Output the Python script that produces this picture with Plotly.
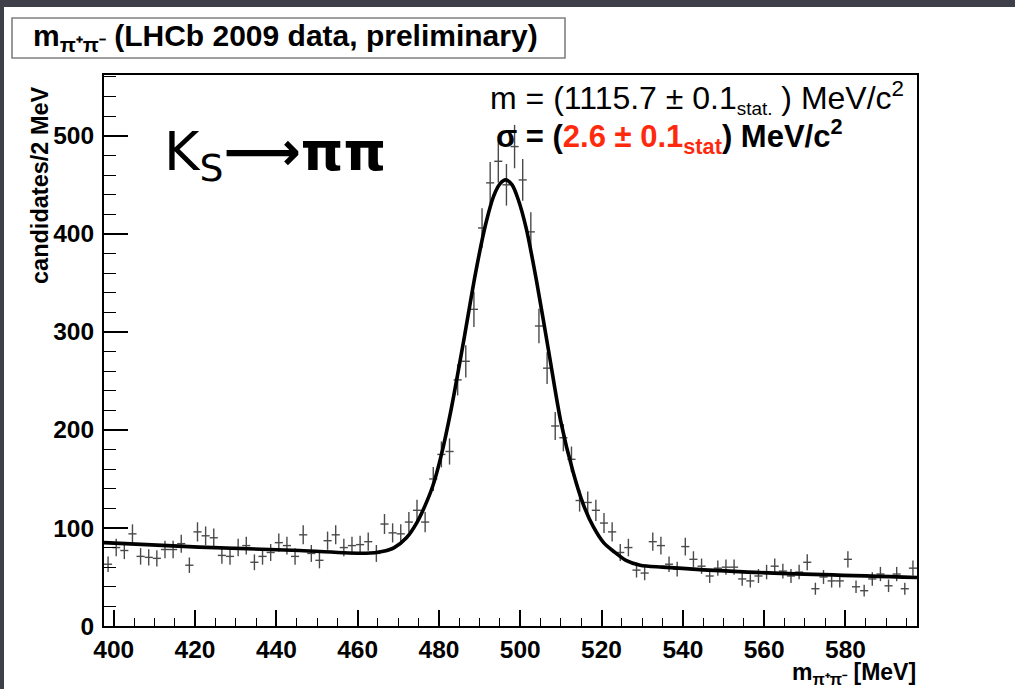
import numpy as np
import plotly.graph_objects as go

# ---------------- data ----------------
bin_width = 2.0
first_bin_center = 398.6
counts = [63, 80, 77, 94, 71, 70, 69, 78, 78, 84,
          62, 96, 92, 90, 72, 71, 80, 82, 65, 71,
          75, 85, 82, 71, 93, 74, 67, 87, 93, 80,
          82, 83, 86, 74, 104, 95, 94, 106, 118, 106,
          150, 175, 178, 251, 270, 323, 406, 452, 474, 450,
          489, 455, 402, 306, 263, 204, 192, 170, 128, 126,
          118, 105, 96, 75, 80, 57, 54, 86, 82, 63,
          58, 81, 68, 61, 51, 59, 60, 60, 48, 46,
          51, 55, 61, 56, 51, 55, 65, 38, 50, 46,
          46, 68, 40, 36, 48, 53, 41, 53, 38, 59]
bin_centers = [first_bin_center + bin_width * i for i in range(len(counts))]

fit_x = [397.6, 421.0, 445.7, 462.0, 466.0, 469.0, 472.0, 474.5, 476.5, 478.5,
         480.5, 483.0, 486.0, 489.0, 491.5, 493.5, 495.0, 496.4, 498.0, 499.5,
         501.5, 504.0, 507.0, 510.0, 513.0, 515.5, 518.0, 520.5, 523.0, 526.0,
         529.5, 535.0, 556.0, 597.6]
fit_y = [85.0, 80.5, 77.0, 74.2, 76.0, 80.0, 90.0, 105.0, 122.0, 143.0,
         173.0, 221.0, 289.0, 360.0, 410.0, 439.0, 451.0, 455.0, 450.0, 435.0,
         405.0, 352.0, 280.0, 208.0, 157.0, 124.0, 101.0, 85.0, 76.0, 67.0,
         62.0, 60.0, 55.0, 49.5]

x_range = [397.6, 597.6]
y_range = [0, 562]
x_ticks = [400, 420, 440, 460, 480, 500, 520, 540, 560, 580]
y_ticks = [0, 100, 200, 300, 400, 500]

# ---------------- geometry helpers ----------------
W, H = 1015, 689
L, R, T, B = 104, 917, 75, 626


def px(xp):
    return (xp - L) / (R - L)


def py(yp):
    return (B - yp) / (B - T)


FONT = "Liberation Sans"

fig = go.Figure()

fig.add_trace(go.Scatter(
    x=bin_centers, y=counts, mode="markers",
    marker=dict(size=1, color="rgba(0,0,0,0)"),
    error_x=dict(type="constant", value=bin_width / 2, width=0,
                 color="#4a4a4a", thickness=1.4),
    error_y=dict(type="data", array=np.sqrt(np.array(counts, dtype=float)),
                 width=0, color="#4a4a4a", thickness=1.4),
    showlegend=False, hoverinfo="skip"))

fig.add_trace(go.Scatter(
    x=fit_x, y=fit_y, mode="lines",
    line=dict(color="black", width=3.6, shape="spline", smoothing=0.8),
    showlegend=False, hoverinfo="skip"))

fig.update_layout(
    width=W, height=H,
    margin=dict(l=L, r=W - R, t=T, b=H - B),
    paper_bgcolor="white", plot_bgcolor="white",
    font=dict(family=FONT, color="black"),
    xaxis=dict(range=x_range, tickvals=x_ticks, ticks="inside", ticklen=16,
               tickwidth=1.5, tickcolor="black",
               minor=dict(dtick=5, tick0=0, ticks="inside", ticklen=8,
                          tickwidth=1.2, tickcolor="black"),
               showline=True, linecolor="black", linewidth=2, mirror=True,
               showgrid=False, zeroline=False,
               tickfont=dict(size=24.5, family=FONT, weight="bold", color="black"),
               ticklabelstandoff=1),
    yaxis=dict(range=y_range, tickvals=y_ticks, ticks="inside", ticklen=24,
               tickwidth=1.5, tickcolor="black",
               minor=dict(dtick=20, tick0=0, ticks="inside", ticklen=12,
                          tickwidth=1.2, tickcolor="black"),
               showline=True, linecolor="black", linewidth=2, mirror=True,
               showgrid=False, zeroline=False,
               tickfont=dict(size=24.5, family=FONT, weight="bold", color="black"),
               ticklabelstandoff=3),
)

shapes = [
    # slide border strips
    dict(type="rect", xref="paper", yref="paper", x0=px(0), x1=px(W), y0=py(7), y1=py(0),
         fillcolor="#3d4049", line=dict(width=0), layer="above"),
    dict(type="rect", xref="paper", yref="paper", x0=px(0), x1=px(4), y0=py(H), y1=py(0),
         fillcolor="#3d4049", line=dict(width=0), layer="above"),
    # title box
    dict(type="rect", xref="paper", yref="paper", x0=px(12), x1=px(565), y0=py(58), y1=py(18),
         fillcolor="white", line=dict(color="#808080", width=1.6), layer="above"),
]
fig.update_layout(shapes=shapes)

ann = [
    dict(text="<b>m<sub>π⁺π⁻</sub> (LHCb 2009 data, preliminary)</b>",
         x=px(285), y=py(38), xanchor="center", yanchor="middle",
         font=dict(size=30, family=FONT, color="black")),
    dict(text="<b>candidates/2 MeV</b>", textangle=-90,
         x=px(40), y=py(84), xanchor="center", yanchor="top",
         font=dict(size=23.5, family=FONT, color="black")),
    dict(text="<b>m<sub>π⁺π⁻</sub> [MeV]</b>",
         x=px(918), y=py(673), xanchor="right", yanchor="middle",
         font=dict(size=23, family=FONT, color="black")),
    dict(text="m = (1115.7 ± 0.1<span style='font-size:27px'><sub>stat.</sub></span> ) MeV/c<sup>2</sup>",
         x=px(906), y=py(97), xanchor="right", yanchor="middle",
         font=dict(size=32, family=FONT, color="black")),
    dict(text="<b>σ = (<span style='color:#ff2a0d'>2.6 ± 0.1<sub>stat</sub></span>) MeV/c<sup>2</sup></b>",
         x=px(494), y=py(136), xanchor="left", yanchor="middle",
         font=dict(size=31, family=FONT, color="black")),
    dict(text="K<sub>S</sub><b>⟶</b><b>ππ</b>",
         x=px(162), y=py(155), xanchor="left", yanchor="middle",
         font=dict(size=54, family="DejaVu Sans", color="black")),
]
for a in ann:
    a.setdefault("xref", "paper")
    a.setdefault("yref", "paper")
    a.setdefault("showarrow", False)
fig.update_layout(annotations=ann)

fig.write_html("out.html", config={"displayModeBar": False},
               post_script="document.body.style.margin='0';")
